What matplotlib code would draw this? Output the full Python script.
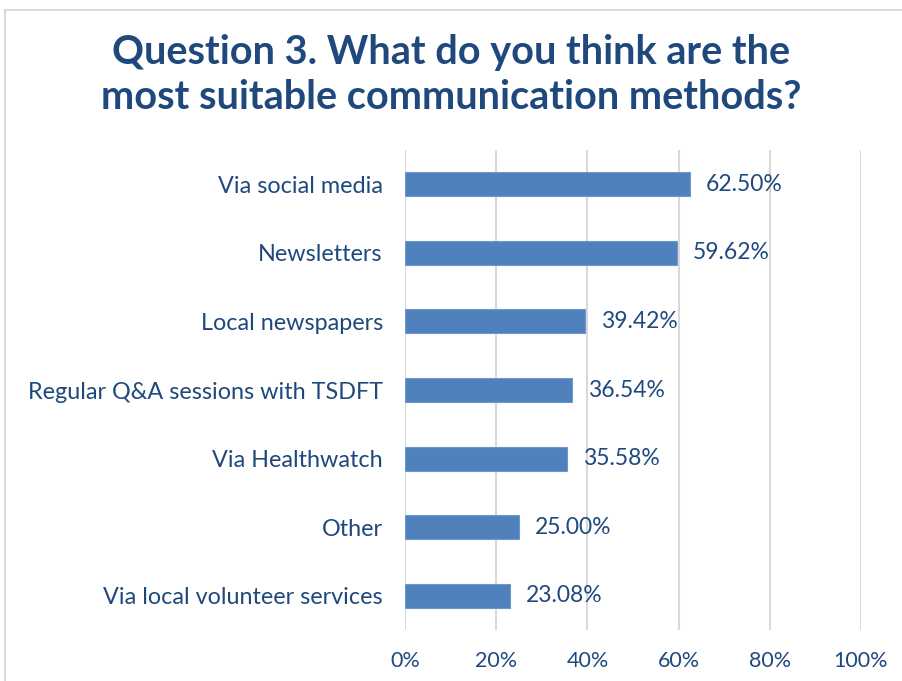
import matplotlib
matplotlib.use("Agg")
import matplotlib.pyplot as plt
from matplotlib.patches import Rectangle

categories = [
    "Via social media",
    "Newsletters",
    "Local newspapers",
    "Regular Q&A sessions with TSDFT",
    "Via Healthwatch",
    "Other",
    "Via local volunteer services",
]
values = [62.50, 59.62, 39.42, 36.54, 35.58, 25.00, 23.08]
ticks = [0, 20, 40, 60, 80, 100]

text_color = "#1F497D"
bar_color = "#4F81BD"

plt.rcParams["font.family"] = ["Lato", "DejaVu Sans"]

fig = plt.figure(figsize=(9.03, 6.81), dpi=100)
ax = fig.add_axes([405 / 903, 1 - 630 / 681, 456 / 903, 480 / 681])

# outer chart border
fig.patches.append(Rectangle((5 / 903, -0.1), 1.2, (1 - 10 / 681) + 0.1,
                             transform=fig.transFigure, fill=False,
                             edgecolor="#D9D9D9", linewidth=1.5))

y = list(range(len(categories)))
ax.barh(y, values, height=0.35, color=bar_color, edgecolor="#6F97CC", linewidth=0.8, zorder=3)
for yi, v in zip(y, values):
    ax.text(v + 3.5, yi, f"{v:.2f}%", va="center", ha="left", fontsize=16.5, color=text_color, zorder=4)

ax.set_xlim(0, 100)
ax.set_ylim(len(categories) - 0.5, -0.5)
ax.set_xticks(ticks)
ax.set_xticklabels([f"{t}%" for t in ticks], fontsize=15.5, color=text_color)
ax.set_yticks(y)
ax.set_yticklabels(categories, fontsize=16.8, color=text_color)
ax.tick_params(axis="both", length=0)
ax.tick_params(axis="x", pad=15)
ax.tick_params(axis="y", pad=16)
ax.grid(axis="x", color="#D9D9D9", linewidth=1.5, zorder=0)
for s in ax.spines.values():
    s.set_visible(False)

fig.text(0.5, 1 - 75 / 681, "Question 3. What do you think are the\nmost suitable communication methods?",
         ha="center", va="center", fontsize=28.5, fontweight="bold", color=text_color, linespacing=1.27)

fig.savefig("out.png", dpi=100)
